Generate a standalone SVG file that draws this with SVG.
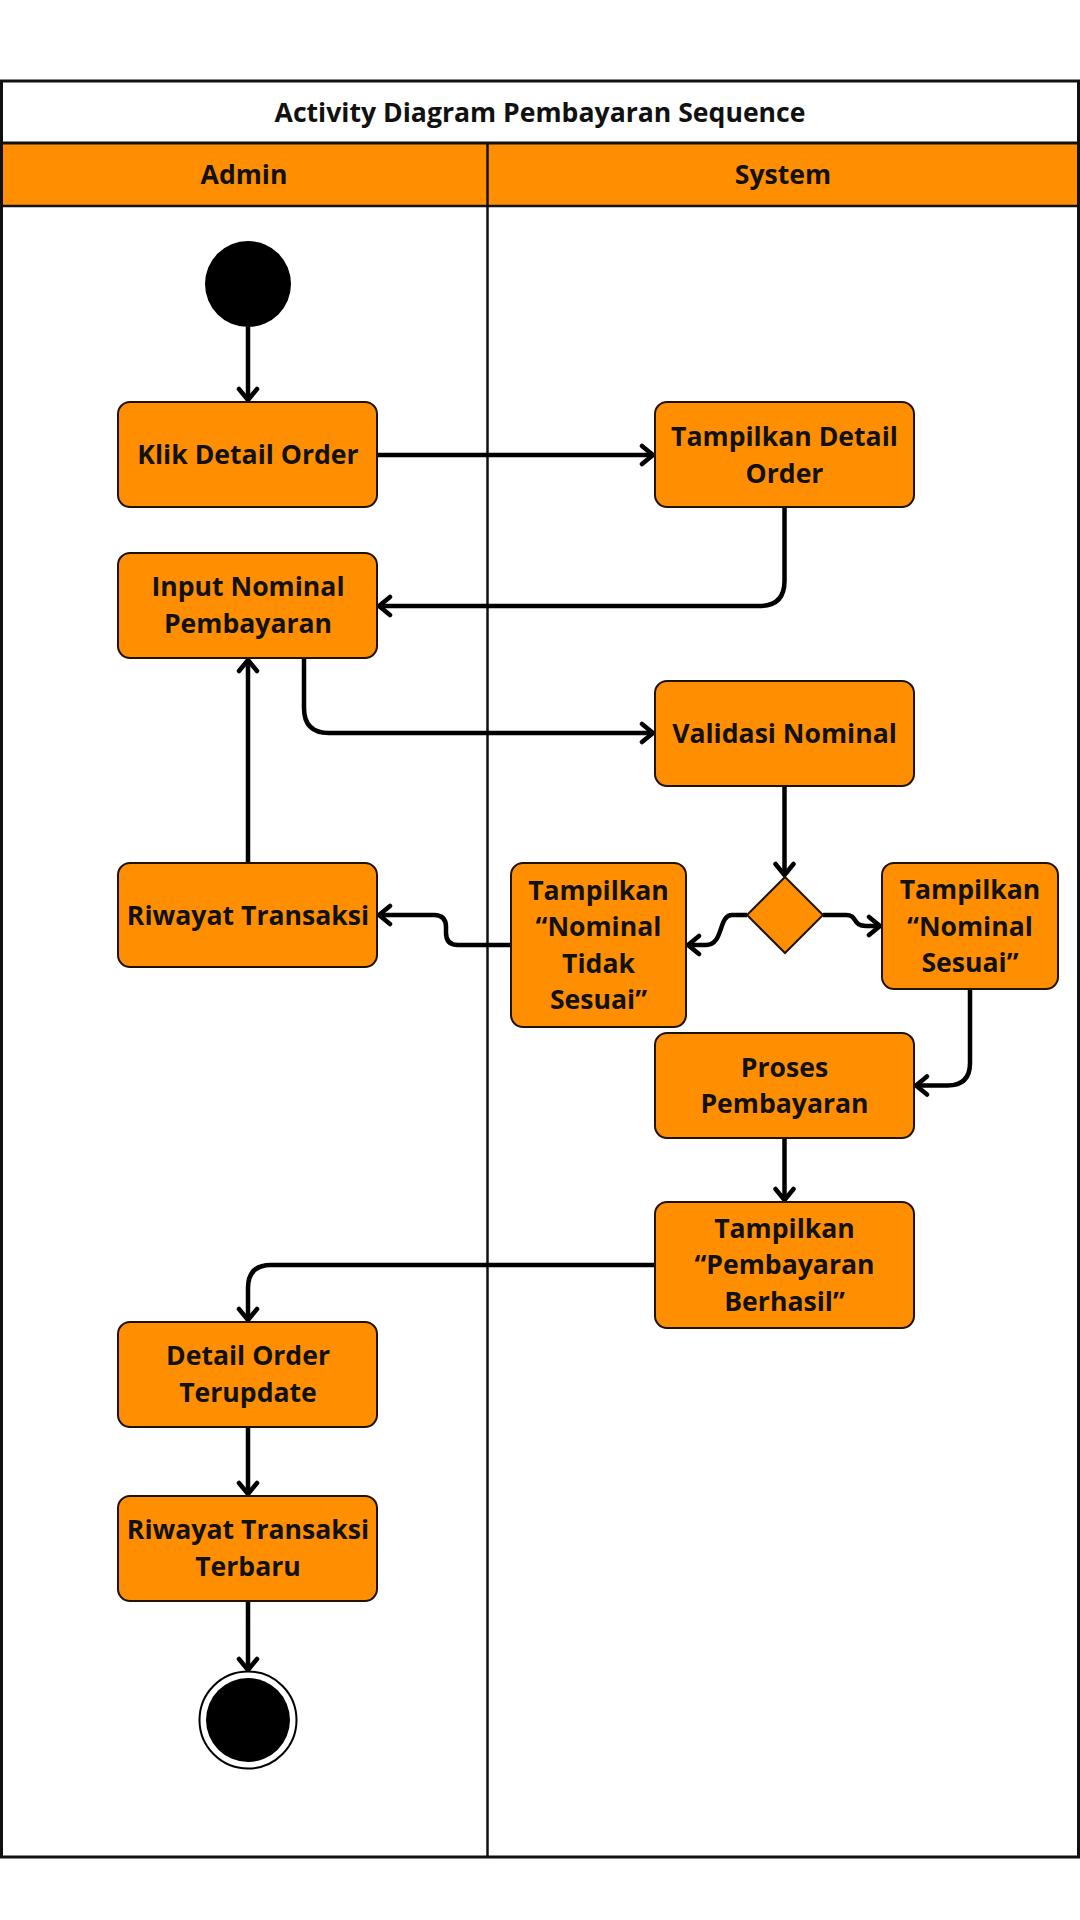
<svg xmlns="http://www.w3.org/2000/svg" width="1080" height="1920" viewBox="0 0 1080 1920">
<style>
text{font-family:"Open Sans","Noto Sans","Liberation Sans",sans-serif;font-weight:700;font-size:26.6px;fill:#111;text-anchor:middle}
.box{fill:#FF8F00;stroke:#1f1300;stroke-width:2}
.conn{fill:none;stroke:#000;stroke-width:4.5;stroke-linejoin:round}
.lane{stroke:#111;fill:none}
</style>
<defs>
<marker id="arr" markerUnits="userSpaceOnUse" viewBox="-16 -12 20 24" markerWidth="20" markerHeight="24" refX="0" refY="0" orient="auto">
<path d="M-11,-9 L0,0 L-11,9" fill="none" stroke="#000" stroke-width="4.5" stroke-linecap="round" stroke-linejoin="round"/>
</marker>
</defs>
<rect width="1080" height="1920" fill="#fff"/>
<g id="pool">
<rect x="1.5" y="143" width="1077" height="63" fill="#FF8F00"/>
<rect class="lane" x="1.5" y="81" width="1077" height="1776" stroke-width="3"/>
<line class="lane" x1="1.5" y1="143" x2="1078.5" y2="143" stroke-width="3"/>
<line class="lane" x1="1.5" y1="206" x2="1078.5" y2="206" stroke-width="2.5"/>
<line class="lane" x1="487.5" y1="143" x2="487.5" y2="1857" stroke-width="2.5"/>
<text x="540" y="122">Activity Diagram Pembayaran Sequence</text>
<text x="244" y="184">Admin</text>
<text x="783" y="184">System</text>
</g>
<g id="connectors">
<path class="conn" marker-end="url(#arr)" d="M248 327 V400"/>
<path class="conn" marker-end="url(#arr)" d="M377 455 H653"/>
<path class="conn" marker-end="url(#arr)" d="M784.5 507 V581 Q784.5 606 759.5 606 H379"/>
<path class="conn" marker-end="url(#arr)" d="M304 658 V708 Q304 733 329 733 H653"/>
<path class="conn" marker-end="url(#arr)" d="M784.5 786 V875"/>
<path class="conn" marker-end="url(#arr)" d="M747 915 H732 C718 915 724 945 706 945 H688"/>
<path class="conn" marker-end="url(#arr)" d="M823 915 H846 C858 915 852 926 866 926 H880"/>
<path class="conn" marker-end="url(#arr)" d="M511 945 H458 Q446 945 446 933 V927 Q446 915 434 915 H379"/>
<path class="conn" marker-end="url(#arr)" d="M248 863 V660"/>
<path class="conn" marker-end="url(#arr)" d="M970 989 V1063 Q970 1085.5 947.5 1085.5 H916"/>
<path class="conn" marker-end="url(#arr)" d="M784.5 1138 V1200"/>
<path class="conn" marker-end="url(#arr)" d="M655 1265 H271 Q248 1265 248 1288 V1320"/>
<path class="conn" marker-end="url(#arr)" d="M248 1427 V1494"/>
<path class="conn" marker-end="url(#arr)" d="M248 1601 V1670"/>
</g>
<g id="start"><circle cx="248" cy="284" r="43" fill="#000"/></g>
<g id="klik"><rect class="box" x="118" y="402" width="259" height="105" rx="12"/><text x="248" y="464">Klik Detail Order</text></g>
<g id="tampil-detail"><rect class="box" x="655" y="402" width="259" height="105" rx="12"/><text x="784.5" y="446">Tampilkan Detail</text><text x="784.5" y="482.5">Order</text></g>
<g id="input"><rect class="box" x="118" y="553" width="259" height="105" rx="12"/><text x="248" y="596">Input Nominal</text><text x="248" y="632.5">Pembayaran</text></g>
<g id="validasi"><rect class="box" x="655" y="681" width="259" height="105" rx="12"/><text x="784.5" y="743">Validasi Nominal</text></g>
<g id="decision"><polygon class="box" points="785,877 823,915 785,953 747,915"/></g>
<g id="riwayat"><rect class="box" x="118" y="863" width="259" height="104" rx="12"/><text x="248" y="924.5">Riwayat Transaksi</text></g>
<g id="tidak-sesuai"><rect class="box" x="511" y="863" width="175" height="164" rx="12"/><text x="598.5" y="899.5">Tampilkan</text><text x="598.5" y="936">“Nominal</text><text x="598.5" y="972.5">Tidak</text><text x="598.5" y="1009">Sesuai”</text></g>
<g id="sesuai"><rect class="box" x="882" y="863" width="176" height="126" rx="12"/><text x="970" y="899">Tampilkan</text><text x="970" y="935.5">“Nominal</text><text x="970" y="972">Sesuai”</text></g>
<g id="proses"><rect class="box" x="655" y="1033" width="259" height="105" rx="12"/><text x="784.5" y="1076.5">Proses</text><text x="784.5" y="1113">Pembayaran</text></g>
<g id="berhasil"><rect class="box" x="655" y="1202" width="259" height="126" rx="12"/><text x="784.5" y="1237.5">Tampilkan</text><text x="784.5" y="1274">“Pembayaran</text><text x="784.5" y="1310.5">Berhasil”</text></g>
<g id="terupdate"><rect class="box" x="118" y="1322" width="259" height="105" rx="12"/><text x="248" y="1365">Detail Order</text><text x="248" y="1401.5">Terupdate</text></g>
<g id="terbaru"><rect class="box" x="118" y="1496" width="259" height="105" rx="12"/><text x="248" y="1539">Riwayat Transaksi</text><text x="248" y="1575.5">Terbaru</text></g>
<g id="end"><circle cx="248" cy="1720" r="48.5" fill="#fff" stroke="#000" stroke-width="2"/><circle cx="248" cy="1720" r="42" fill="#000"/></g>
</svg>
